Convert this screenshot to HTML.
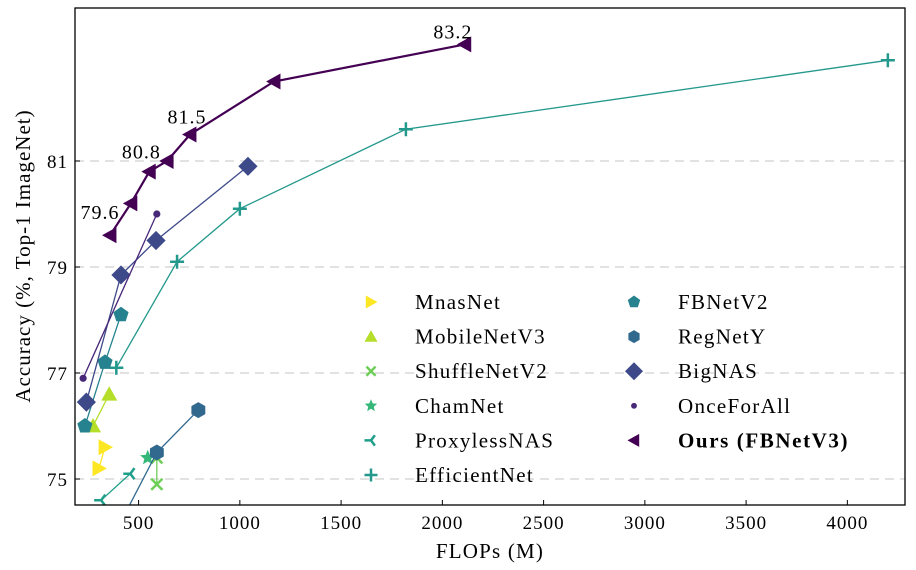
<!DOCTYPE html>
<html><head><meta charset="utf-8"><style>
html,body{margin:0;padding:0;background:#fff}
svg{display:block;font-family:"Liberation Serif",serif}
</style></head><body>
<svg id="chart" width="916" height="570" viewBox="0 0 916 570" xmlns="http://www.w3.org/2000/svg">
<defs><clipPath id="pc"><rect x="75" y="8" width="830" height="497"/></clipPath></defs>
<g id="grid"></g>
<g id="series" clip-path="url(#pc)"></g>
<g id="annots"></g>
<rect x="75" y="8" width="830" height="497" fill="none" stroke="#000" stroke-width="1.3"/>
<g id="axes"></g>
<text x="490" y="558" text-anchor="middle" font-size="21" letter-spacing="1.2">FLOPs (M)</text>
<text transform="translate(30,256) rotate(-90)" text-anchor="middle" font-size="21" letter-spacing="1">Accuracy (%, Top-1 ImageNet)</text>
<g id="legend"></g>
</svg>
<script>
const xTicks=[500,1000,1500,2000,2500,3000,3500,4000];
const yTicks=[75,77,79,81];
const seriesNames=["MnasNet","MobileNetV3","ShuffleNetV2","ChamNet","ProxylessNAS","EfficientNet","FBNetV2","RegNetY","BigNAS","OnceForAll","Ours (FBNetV3)"];
const mnasFlops=[304,334];const mnasAcc=[75.2,75.6];
const mbv3Flops=[275,355];const mbv3Acc=[76.0,76.6];
const shuffleFlops=[590,590];const shuffleAcc=[75.4,74.9];
const chamFlops=[545];const chamAcc=[75.4];
const proxyFlops=[315,459];const proxyAcc=[74.6,75.1];
const effFlops=[390,690,1000,1820,4200];const effAcc=[77.1,79.1,80.1,81.6,82.9];
const fbv2Flops=[235,334,413];const fbv2Acc=[76.0,77.2,78.1];
const regFlops=[400,590,795];const regAcc=[74.1,75.5,76.3];
const bigFlops=[242,413,586,1040];const bigAcc=[76.45,78.85,79.5,80.9];
const ofaFlops=[226,590];const ofaAcc=[76.9,80.0];
const oursFlops=[359,462,553,641,754,1169,2111];const oursAcc=[79.6,80.2,80.8,81.0,81.5,82.5,83.2];
const annotLabels=["79.6","80.8","81.5","83.2"];const annotIdx=[0,2,4,6];

const NS="http://www.w3.org/2000/svg";
const X=v=>138.6+(v-500)*0.2025;
const Y=v=>161+(81-v)*53;
function mk(tag,attrs,parent){const e=document.createElementNS(NS,tag);for(const k in attrs)e.setAttribute(k,attrs[k]);parent.appendChild(e);return e;}
const grid=document.getElementById('grid'),axes=document.getElementById('axes'),ser=document.getElementById('series'),ann=document.getElementById('annots'),leg=document.getElementById('legend');
yTicks.forEach(t=>{
  const l=mk('line',{x1:75,x2:905,y1:Y(t),y2:Y(t),stroke:'#d0d0d0','stroke-width':1.3,'stroke-dasharray':'9,6'},grid);
  
  
  const tk=mk('line',{x1:75,x2:80,y1:Y(t),y2:Y(t),stroke:'#000'},axes);
  
  
  const tx=mk('text',{x:68,y:Y(t)+7,'text-anchor':'end','font-size':19,'letter-spacing':1},axes);tx.textContent=t;
  
  
});
xTicks.forEach(t=>{
  const tk=mk('line',{x1:X(t),x2:X(t),y1:505,y2:500,stroke:'#000'},axes);
  
  
  const tx=mk('text',{x:X(t),y:529,'text-anchor':'middle','font-size':19,'letter-spacing':1},axes);tx.textContent=t;
  
  
});
function marker(type,cx,cy,s,color,g){
  let e;
  if(type==='tr')e=mk('polygon',{points:`${cx-s*0.8},${cy-s} ${cx+s},${cy} ${cx-s*0.8},${cy+s}`,fill:color},g);
  else if(type==='tl')e=mk('polygon',{points:`${cx+s*0.8},${cy-s} ${cx-s},${cy} ${cx+s*0.8},${cy+s}`,fill:color},g);
  else if(type==='tu')e=mk('polygon',{points:`${cx-s},${cy+s*0.8} ${cx},${cy-s} ${cx+s},${cy+s*0.8}`,fill:color},g);
  else if(type==='x')e=mk('path',{d:`M${cx-s*0.7},${cy-s*0.7}L${cx+s*0.7},${cy+s*0.7}M${cx-s*0.7},${cy+s*0.7}L${cx+s*0.7},${cy-s*0.7}`,stroke:color,'stroke-width':2.5,fill:'none'},g);
  else if(type==='+')e=mk('path',{d:`M${cx-s},${cy}L${cx+s},${cy}M${cx},${cy-s}L${cx},${cy+s}`,stroke:color,'stroke-width':2.5,fill:'none'},g);
  else if(type==='tri3')e=mk('path',{d:`M${cx-s},${cy}L${cx},${cy}M${cx},${cy}L${cx+s*0.6},${cy-s*0.8}M${cx},${cy}L${cx+s*0.6},${cy+s*0.8}`,stroke:color,'stroke-width':2.5,fill:'none'},g);
  else if(type==='star'){let p=[];for(let i=0;i<10;i++){const r=i%2?s*0.45:s;const a=-Math.PI/2+i*Math.PI/5;p.push((cx+r*Math.cos(a)).toFixed(1)+','+(cy+r*Math.sin(a)).toFixed(1));}e=mk('polygon',{points:p.join(' '),fill:color},g);}
  else if(type==='pent'){let p=[];for(let i=0;i<5;i++){const a=-Math.PI/2+i*2*Math.PI/5;p.push((cx+s*Math.cos(a)).toFixed(1)+','+(cy+s*Math.sin(a)).toFixed(1));}e=mk('polygon',{points:p.join(' '),fill:color},g);}
  else if(type==='hex'){let p=[];for(let i=0;i<6;i++){const a=-Math.PI/2+i*Math.PI/3;p.push((cx+s*Math.cos(a)).toFixed(1)+','+(cy+s*Math.sin(a)).toFixed(1));}e=mk('polygon',{points:p.join(' '),fill:color},g);}
  else if(type==='dia')e=mk('polygon',{points:`${cx},${cy-s*1.2} ${cx+s*1.2},${cy} ${cx},${cy+s*1.2} ${cx-s*1.2},${cy}`,fill:color},g);
  else e=mk('circle',{cx:cx,cy:cy,r:s*0.45,fill:color},g);
  return e;
}
const sets=[
 [mnasFlops,mnasAcc,'#fde725','tr',8],
 [mbv3Flops,mbv3Acc,'#b5de2b','tu',8],
 [shuffleFlops,shuffleAcc,'#6ece58','x',8],
 [chamFlops,chamAcc,'#35b779','star',8],
 [proxyFlops,proxyAcc,'#1f9e89','tri3',7],
 [effFlops,effAcc,'#23988c','+',7],
 [fbv2Flops,fbv2Acc,'#26828e','pent',8],
 [regFlops,regAcc,'#31688e','hex',8],
 [bigFlops,bigAcc,'#3e4989','dia',8],
 [ofaFlops,ofaAcc,'#482878','dot',8],
 [oursFlops,oursAcc,'#440154','tl',8]
];
sets.forEach((s,i)=>{
  const [fx,fy,col,m,sz]=s;
  const g=mk('g',{},ser);
  
  
  if(fx.length>1){
    const pl=mk('polyline',{points:fx.map((v,j)=>X(v)+','+Y(fy[j])).join(' '),fill:'none',stroke:col,'stroke-width':i===10?2.2:1.3},g);
    
    
  }
  fx.forEach((v,j)=>{
    const e=marker(m,X(v),Y(fy[j]),sz,col,g);
    
    
  });
  const col2=i<6?0:1,row=i<6?i:i-6;
  const lg=mk('g',{},leg);
  
  
  const lx=col2?634:371,ly=302+row*34.6;
  marker(m,lx,ly,m==='dia'?7.5:6.5,col,lg);
  const t=mk('text',{x:col2?678:415,y:ly+7,'font-size':21,'letter-spacing':1.3},lg);
  if(i===10){t.setAttribute('font-weight','bold');t.setAttribute('letter-spacing','1.6');}
  t.textContent=seriesNames[i];
});
const aoff=[[-10,-16],[-8,-13],[-3,-11],[-12,-6]];
annotIdx.forEach((k,j)=>{
  const t=mk('text',{x:X(oursFlops[k])+aoff[j][0],y:Y(oursAcc[k])+aoff[j][1],'text-anchor':'middle','font-size':20,'letter-spacing':1},ann);
  t.textContent=annotLabels[j];
  
  
});
</script>
</body></html>
